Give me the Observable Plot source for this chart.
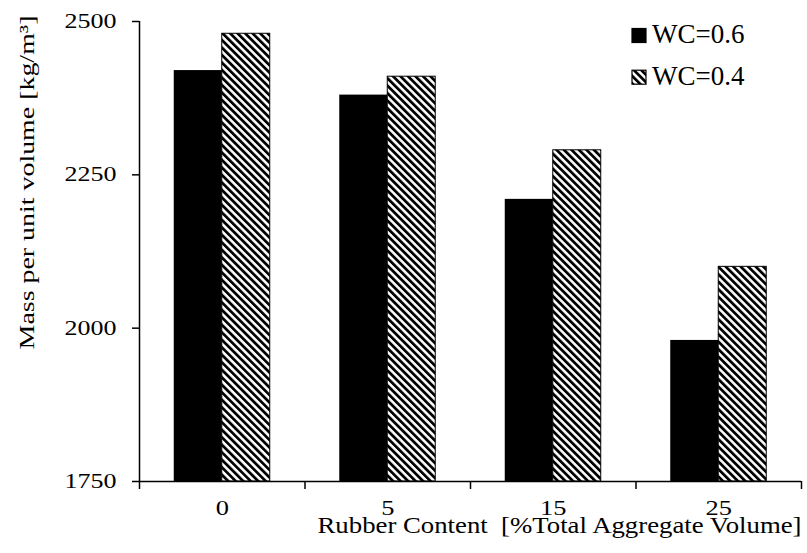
<!DOCTYPE html>
<html><head><meta charset="utf-8">
<script src="https://cdn.jsdelivr.net/npm/d3@7"></script>
<script src="https://cdn.jsdelivr.net/npm/@observablehq/plot@0.6"></script>
<style>
html,body{margin:0;padding:0;background:#fff;}
#wrap{position:relative;width:807px;height:553px;overflow:hidden;}
#wrap svg{display:block;}
#wrap svg text{font-family:"Liberation Serif","Times New Roman","DejaVu Serif",serif;}
#legend{position:absolute;left:0;top:0;pointer-events:none;}
</style></head><body><div id="wrap"></div>
<script>
// ---- data ----
const categories = ["0", "5", "15", "25"];
const seriesNames = ["WC=0.6", "WC=0.4"];
const wc06 = [2420, 2380, 2210, 1980];
const wc04 = [2480, 2410, 2290, 2100];
const yTicks = [1750, 2000, 2250, 2500];
const xTitle = "Rubber Content  [%Total Aggregate Volume]";
const yTitle = "Mass per unit volume [kg/m³]";

// ---- layout ----
const W = 807, H = 553;
const FONT = '"Liberation Serif","Times New Roman","DejaVu Serif",serif';
const groupPad = 0.21;
const n = categories.length;
const yMin = yTicks[0], yMax = yTicks[yTicks.length - 1];

const svg = Plot.plot({
  width: W, height: H,
  marginLeft: 139, marginRight: 6, marginTop: 21, marginBottom: 72,
  style: {fontFamily: FONT, fontSize: "21px", color: "black", background: "white"},
  x: {type: "linear", domain: [0, n]},
  y: {domain: [yMin, yMax]},
  marks: [
    Plot.rectY(wc06, {
      x1: (d, i) => i + groupPad, x2: (d, i) => i + 0.5,
      y1: () => yMin, y2: d => d,
      fill: "black"
    }),
    Plot.rectY(wc04, {
      x1: (d, i) => i + 0.5, x2: (d, i) => i + 1 - groupPad,
      y1: () => yMin, y2: d => d,
      fill: "url(#hatch)", stroke: "black", strokeWidth: 1
    }),
    Plot.axisY({
      ticks: yTicks, tickSize: 7, tickPadding: 16, strokeWidth: 1.5,
      tickFormat: d3.format("d"), label: null
    }),
    Plot.axisX({
      ticks: d3.range(0, n + 1), tickSize: 8, strokeWidth: 1.5,
      tickFormat: () => "", label: null
    }),
    Plot.axisX({
      ticks: d3.range(n).map(i => i + 0.5), tickSize: 0, tickPadding: 18.5,
      tickFormat: t => categories[Math.floor(t)], label: null
    }),
    Plot.ruleX([0], {stroke: "black", strokeWidth: 1.5}),
    Plot.ruleY([yMin], {stroke: "black", strokeWidth: 1.5}),
    Plot.text([xTitle], {
      text: d => d, frameAnchor: "bottom-right", textAnchor: "end",
      lineAnchor: "bottom", dy: 51
    }),
    Plot.text([yTitle], {
      text: d => d, frameAnchor: "top-left", rotate: -90, textAnchor: "end",
      lineAnchor: "bottom", dx: -106, dy: -6
    })
  ]
});

// hatch pattern (downward diagonal stripes, crisp like the reference)
function addHatch(svgNode, id) {
  let defs = d3.select(svgNode).select("defs");
  if (defs.empty()) defs = d3.select(svgNode).insert("defs", ":first-child");
  const p = 5.3;
  const pat = defs.append("pattern").attr("id", id)
    .attr("patternUnits", "userSpaceOnUse")
    .attr("width", p).attr("height", 20)
    .attr("patternTransform", "rotate(-45)");
  pat.append("rect").attr("width", p).attr("height", 20).attr("fill", "white");
  pat.append("rect").attr("width", p * 0.52).attr("height", 20).attr("fill", "black");
}
addHatch(svg, "hatch");

// text sizing: glyphs are wider along the writing direction in the reference
function stretch(node, size, s) {
  node.setAttribute("font-size", size);
  node.style.fontSize = size + "px";
  const x = +node.getAttribute("x") || 0, y = +node.getAttribute("y") || 0;
  const t = node.getAttribute("transform") || "";
  node.setAttribute("transform", `${t} translate(${x},${y}) scale(${s},1) translate(${-x},${-y})`);
}
const yTickStrings = yTicks.map(String);
svg.querySelectorAll("text").forEach(node => {
  const c = node.textContent;
  if (c === xTitle) { stretch(node, 22.5, 1.19); node.style.whiteSpace = "pre"; }
  else if (c === yTitle) stretch(node, 21, 1.33);
  else if (yTickStrings.includes(c)) stretch(node, 20, 1.3);
  else if (categories.includes(c)) stretch(node, 21, 1.26);
});

const wrap = document.getElementById("wrap");
wrap.appendChild(svg);

// legend overlay
const leg = d3.select(wrap).append("svg").attr("id", "legend")
  .attr("width", W).attr("height", H);
addHatch(leg.node(), "hatch-legend");
const fills = ["black", "url(#hatch-legend)"];
const items = leg.selectAll("g.item").data(seriesNames).join("g")
  .attr("class", "item")
  .attr("transform", (d, i) => `translate(632, ${28.5 + i * 41.7})`);
items.append("rect").attr("width", 14).attr("height", 14)
  .attr("fill", (d, i) => fills[i]).attr("stroke", "black").attr("stroke-width", 1.2);
items.append("text").attr("x", 20).attr("y", 14.8)
  .style("font-family", FONT).style("font-size", "27px").attr("fill", "black")
  .text(d => d);
</script></body></html>
